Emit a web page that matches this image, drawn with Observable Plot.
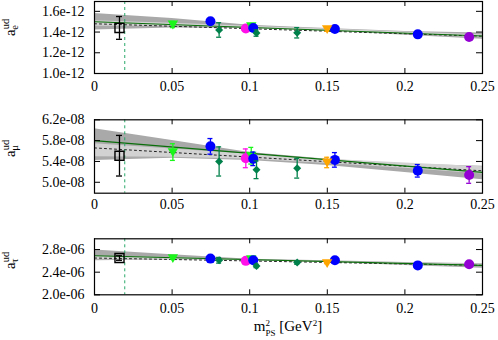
<!DOCTYPE html>
<html><head><meta charset="utf-8">
<script src="https://cdn.jsdelivr.net/npm/d3@7"></script>
<script src="https://cdn.jsdelivr.net/npm/@observablehq/plot@0.6"></script>
<style>
body{margin:0;background:#fff}
#wrap{position:relative;width:498px;height:340px;font-family:"Liberation Serif",serif}
#wrap svg{position:absolute;left:0}
</style></head><body><div id="wrap"></div>
<script>
// ---------- data ----------
const xTicks = [0, 0.05, 0.1, 0.15, 0.2, 0.25];
const physX = 0.0195;          // dashed vertical line (physical m_pi^2)
const pointX = 0.0161;         // extrapolated point (open square)
const ensX = [0.0505, 0.0747, 0.0803, 0.0975, 0.101, 0.1023, 0.1044, 0.1306, 0.1499, 0.1549, 0.2083, 0.2414];
const ensGroup = ["lime","blue","dkgreen","magenta","lime","blue","dkgreen","dkgreen","orange","blue","blue","purple"];

// a_e^ud  (x 1e-12)
const ae    = [1.473, 1.505, 1.42, 1.435, 1.457, 1.44, 1.39, 1.393, 1.428, 1.43, 1.378, 1.352];
const aeErr = [0.03, 0.02, 0.07, 0.02, 0.02, 0.02, 0.03, 0.05, 0.02, 0.02, 0.02, 0.02];
const aePhys = 1.44, aePhysErr = 0.11;
// a_mu^ud (x 1e-8)
const amu    = [5.58, 5.69, 5.40, 5.46, 5.51, 5.45, 5.24, 5.27, 5.38, 5.43, 5.22, 5.14];
const amuErr = [0.16, 0.15, 0.28, 0.18, 0.16, 0.13, 0.17, 0.19, 0.10, 0.14, 0.12, 0.16];
const amuPhys = 5.51, amuPhysErr = 0.39;
// a_tau^ud (x 1e-6)
const atau    = [2.65, 2.64, 2.61, 2.60, 2.63, 2.61, 2.51, 2.57, 2.56, 2.61, 2.52, 2.54];
const atauErr = [0.02, 0.01, 0.05, 0.01, 0.01, 0.01, 0.03, 0.03, 0.01, 0.01, 0.01, 0.01];
const atauPhys = 2.65, atauPhysErr = 0.04;

// fit bands & lines
const bandX = [0, 0.05, 0.1, 0.15, 0.2, 0.25];
const eDarkLo  = [1.42, 1.44, 1.435, 1.41, 1.37, 1.33];
const eDarkHi  = [1.58, 1.53, 1.465, 1.435, 1.405, 1.39];
const eLightLo = [1.455, 1.455, 1.44, 1.41, 1.38, 1.345];
const eLightHi = [1.51, 1.485, 1.455, 1.43, 1.40, 1.375];
const eFit = [1.50, 1.362], eDot = [1.48, 1.36];

const muDarkLo  = [5.42, 5.46, 5.42, 5.32, 5.19, 5.05];
const muDarkHi  = [6.03, 5.80, 5.57, 5.44, 5.35, 5.31];
const muLightLo = [5.49, 5.48, 5.44, 5.36, 5.27, 5.16];
const muLightHi = [5.74, 5.64, 5.54, 5.44, 5.37, 5.30];
const muFit = [5.80, 5.19], muDot = [5.66, 5.22];

const tauDarkLo  = [2.60, 2.62, 2.60, 2.57, 2.52, 2.47];
const tauDarkHi  = [2.79, 2.71, 2.63, 2.60, 2.57, 2.55];
const tauLightLo = [2.62, 2.62, 2.60, 2.57, 2.53, 2.50];
const tauLightHi = [2.68, 2.66, 2.62, 2.59, 2.56, 2.54];
const tauFit = [2.69, 2.52], tauDot = [2.65, 2.52];

const eTicks = [1.0, 1.2, 1.4, 1.6];
const muTicks = [5.0, 5.4, 5.8, 6.2];
const tauTicks = [2.0, 2.4, 2.8];

// ---------- styles ----------
const colors = {lime:"#1cf51c", blue:"#0000ff", dkgreen:"#00804a", magenta:"#ff10e8", orange:"#ffa500", purple:"#9400d3"};
const triDown = {draw(ctx, size){ const r = Math.sqrt(size/Math.PI); ctx.moveTo(-r, -r*0.75); ctx.lineTo(r, -r*0.75); ctx.lineTo(0, r*0.95); ctx.closePath(); }};
const shapes = {lime:triDown, blue:"circle", dkgreen:"diamond2", magenta:"circle", orange:triDown, purple:"circle"};
const sizes = {lime:5.2, blue:5, dkgreen:3.6, magenta:5, orange:5.2, purple:5};
const order = ["magenta","lime","blue","dkgreen","orange","purple"];

function panel({vals, errs, phys, physErr, darkLo, darkHi, lightLo, lightHi, fit, dot, yDomain, yTicks, exp, top, height, mt, mb, tickPad}) {
  const pts = ensX.map((x,i)=>({x, y: vals[i], e: errs[i], g: ensGroup[i]}));
  const band = bandX.map((x,i)=>({x, dlo: darkLo[i], dhi: darkHi[i], llo: lightLo[i], lhi: lightHi[i]}));
  const fitLine = [{x: xTicks[0], y: fit[0]}, {x: xTicks[xTicks.length-1], y: fit[1]}];
  const dotLine = [{x: xTicks[0], y: dot[0]}, {x: xTicks[xTicks.length-1], y: dot[1]}];
  const ph = [{x: pointX, y: phys, e: physErr}];
  const fh = height - mt - mb;
  const marks = [
    Plot.areaY(band, {x:"x", y1:"dlo", y2:"dhi", fill:"#a9a9a9"}),
    Plot.areaY(band, {x:"x", y1:"llo", y2:"lhi", fill:"#d2d2d2"}),
    Plot.line(dotLine, {x:"x", y:"y", stroke:"#222", strokeWidth:1, strokeDasharray:"2,3"}),
    Plot.line(fitLine, {x:"x", y:"y", stroke:"#0a6e0a", strokeWidth:1.1}),
    Plot.ruleX([physX], {stroke:"#2aa86a", strokeWidth:1, strokeDasharray:"3,3"}),
  ];
  for (const g of order) {
    const d = pts.filter(p=>p.g===g);
    marks.push(Plot.ruleX(d, {x:"x", y1:p=>p.y-p.e, y2:p=>p.y+p.e, stroke:colors[g], strokeWidth:1.3}));
    marks.push(Plot.ruleY(d, {y:p=>p.y-p.e, x1:"x", x2:"x", insetLeft:-2.5, insetRight:-2.5, stroke:colors[g], strokeWidth:1.3}));
    marks.push(Plot.ruleY(d, {y:p=>p.y+p.e, x1:"x", x2:"x", insetLeft:-2.5, insetRight:-2.5, stroke:colors[g], strokeWidth:1.3}));
    marks.push(Plot.dot(d, {x:"x", y:"y", symbol:shapes[g], r:sizes[g], fill:colors[g], stroke:"none"}));
  }
  marks.push(
    Plot.ruleX(ph, {x:"x", y1:p=>p.y-p.e, y2:p=>p.y+p.e, stroke:"#000", strokeWidth:1.3}),
    Plot.ruleY(ph, {y:p=>p.y-p.e, x1:"x", x2:"x", insetLeft:-3, insetRight:-3, stroke:"#000", strokeWidth:1.3}),
    Plot.ruleY(ph, {y:p=>p.y+p.e, x1:"x", x2:"x", insetLeft:-3, insetRight:-3, stroke:"#000", strokeWidth:1.3}),
    Plot.dot(ph, {x:"x", y:"y", symbol:"square", r:5.1, fill:"none", stroke:"#000", strokeWidth:1.4}),
    // inward ticks
    Plot.tickX(xTicks, {x:d=>d, insetTop: fh-5, stroke:"#000"}),
    Plot.tickX(xTicks, {x:d=>d, insetBottom: fh-5, stroke:"#000"}),
    Plot.tickY(yTicks, {y:d=>d, insetRight: 388-6, stroke:"#000"}),
    Plot.tickY(yTicks, {y:d=>d, insetLeft: 388-6, stroke:"#000"}),
    Plot.frame({stroke:"#000", strokeWidth:1.2}),
    Plot.axisX(xTicks, {tickSize:0, tickPadding: tickPad, label:null, tickFormat: d=>String(d), fontSize:14}),
    Plot.axisY(yTicks, {tickSize:0, tickPadding:10, label:null, tickFormat: d=>d.toFixed(1)+"e-"+exp, fontSize:14})
  );
  const svg = Plot.plot({
    width:498, height, marginLeft:94, marginRight:16, marginTop:mt, marginBottom:mb,
    style:{fontFamily:'"Liberation Serif", serif', fontSize:"14px", background:"transparent", color:"#000"},
    x:{domain:[0,0.25]}, y:{domain:yDomain},
    marks
  });
  svg.style.top = top + "px";
  document.getElementById("wrap").appendChild(svg);
}

panel({vals:ae, errs:aeErr, phys:aePhys, physErr:aePhysErr, darkLo:eDarkLo, darkHi:eDarkHi, lightLo:eLightLo, lightHi:eLightHi, fit:eFit, dot:eDot,
  yDomain:[1.0,1.695], yTicks:eTicks, exp:"12", top:0, height:100, mt:1, mb:27, tickPad:8});
panel({vals:amu, errs:amuErr, phys:amuPhys, physErr:amuPhysErr, darkLo:muDarkLo, darkHi:muDarkHi, lightLo:muLightLo, lightHi:muLightHi, fit:muFit, dot:muDot,
  yDomain:[4.79,6.2], yTicks:muTicks, exp:"08", top:100, height:120, mt:19.3, mb:27.3, tickPad:6});
panel({vals:atau, errs:atauErr, phys:atauPhys, physErr:atauPhysErr, darkLo:tauDarkLo, darkHi:tauDarkHi, lightLo:tauLightLo, lightHi:tauLightHi, fit:tauFit, dot:tauDot,
  yDomain:[2.0,2.99], yTicks:tauTicks, exp:"06", top:220, height:120, mt:18.3, mb:45.7, tickPad:8});

// labels overlay
const ns = "http://www.w3.org/2000/svg";
const ov = document.createElementNS(ns, "svg");
ov.setAttribute("width", 498); ov.setAttribute("height", 340); ov.style.top = "0px";
ov.innerHTML = `
<g font-family="Liberation Serif, serif" fill="#000">
 <text transform="translate(15,36) rotate(-90)" font-size="15">a<tspan font-size="10.5" dy="-6">ud</tspan><tspan font-size="10.5" dx="-11" dy="9">e</tspan></text>
 <text transform="translate(15,157) rotate(-90)" font-size="15">a<tspan font-size="10.5" dy="-6">ud</tspan><tspan font-size="10.5" dx="-11" dy="9">μ</tspan></text>
 <text transform="translate(15,269) rotate(-90)" font-size="15">a<tspan font-size="10.5" dy="-6">ud</tspan><tspan font-size="10.5" dx="-11" dy="9">τ</tspan></text>
 <text x="288" y="331" text-anchor="middle" font-size="15">m<tspan font-size="9" dy="-5">2</tspan><tspan font-size="9" dx="-4.5" dy="10">PS</tspan><tspan dy="-5"> [GeV</tspan><tspan font-size="9" dy="-5">2</tspan><tspan dy="5">]</tspan></text>
</g>`;
document.getElementById("wrap").appendChild(ov);
</script>
</body></html>
